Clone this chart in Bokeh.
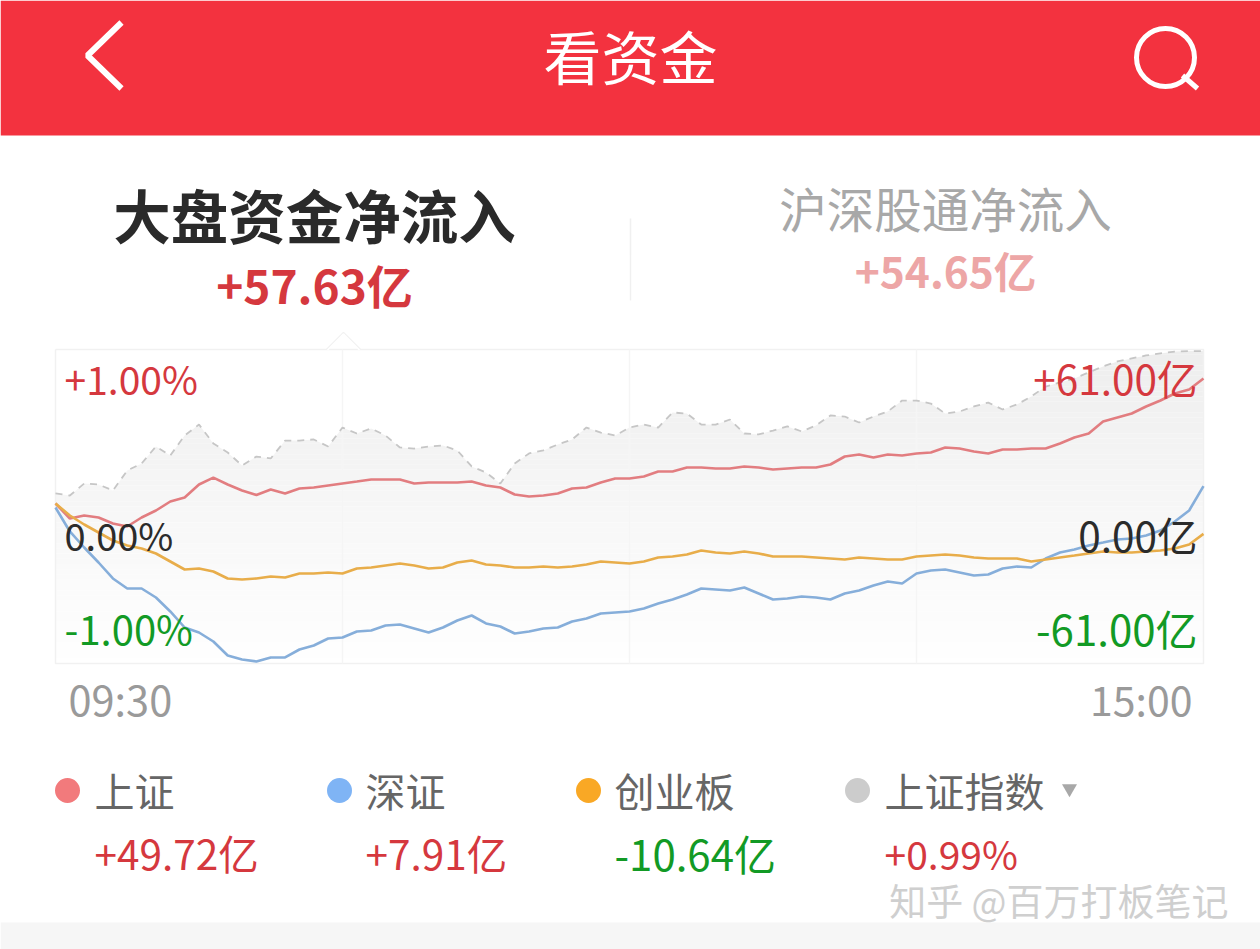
from bokeh.plotting import figure
from bokeh.models import Range1d
from bokeh.core.properties import value
from bokeh.embed import file_html
from bokeh.resources import INLINE

MINUTES = [i * 3 for i in range(81)]
SH = [1.17,-4.66,-3.50,-4.27,-6.60,-7.77,-4.27,-1.55,1.94,3.50,8.55,11.20,8.55,6.22,4.50,6.60,5.05,6.99,7.38,8.16,
      8.94,9.71,10.49,10.49,10.49,8.94,9.32,9.32,9.32,9.71,8.16,7.38,4.66,3.89,4.27,5.05,6.99,7.38,9.32,10.88,
      10.88,11.66,13.60,13.60,15.15,15.15,14.76,14.76,15.54,15.15,14.37,14.76,15.15,15.15,16.32,19.43,20.20,19.04,20.20,19.81,
      20.59,20.98,22.92,22.53,21.37,20.59,22.14,22.14,22.53,22.53,24.48,26.81,28.36,33.02,34.58,36.13,38.85,41.18,43.90,45.45,49.72]
SZ = [-0.39,-9.71,-15.93,-21.76,-27.97,-31.86,-31.86,-35.35,-40.79,-47.01,-48.95,-52.45,-57.89,-59.44,-60.22,-58.66,-58.66,-55.56,-54.00,-51.28,
      -50.89,-48.56,-48.17,-46.23,-45.84,-47.40,-48.95,-47.01,-44.29,-42.35,-45.45,-46.62,-49.34,-48.56,-47.40,-47.01,-44.68,-43.51,-41.57,-41.18,
      -40.79,-39.63,-37.68,-36.13,-34.19,-31.86,-32.25,-32.63,-31.47,-33.80,-36.13,-35.74,-34.97,-35.35,-36.13,-33.80,-32.63,-30.69,-29.14,-29.91,
      -26.03,-24.86,-24.48,-25.64,-26.81,-26.42,-24.09,-23.31,-23.70,-20.20,-17.87,-16.71,-15.15,-13.99,-12.82,-12.43,-11.27,-9.32,-5.83,-1.55,7.91]
CYB = [1.17,-3.50,-6.99,-10.10,-13.21,-15.15,-16.32,-18.26,-21.37,-24.48,-24.09,-25.25,-27.97,-28.36,-27.97,-27.20,-27.58,-26.03,-26.03,-25.64,
       -26.03,-24.09,-23.70,-22.92,-22.14,-22.92,-24.09,-23.70,-21.76,-20.98,-22.53,-22.92,-23.70,-23.70,-23.31,-23.70,-23.31,-22.53,-21.37,-21.76,
       -22.14,-21.37,-19.81,-19.43,-18.65,-17.09,-17.87,-18.26,-17.48,-18.26,-19.43,-19.43,-19.43,-19.81,-20.20,-20.59,-19.81,-20.20,-20.59,-20.59,
       -19.43,-19.04,-18.65,-19.04,-19.81,-20.20,-20.20,-20.20,-21.37,-20.59,-19.81,-19.04,-18.26,-17.48,-17.87,-17.87,-17.48,-17.09,-16.32,-14.76,-10.64]
INDEX_PCT = [.083,.070,.146,.140,.102,.229,.274,.382,.325,.452,.522,.401,.344,.261,.318,.306,.420,.420,.427,.382,
             .503,.465,.497,.452,.376,.369,.382,.389,.357,.255,.217,.146,.274,.338,.357,.395,.427,.503,.471,.452,
             .503,.522,.503,.599,.592,.522,.522,.554,.465,.459,.484,.510,.478,.516,.580,.573,.535,.573,.605,.675,
             .675,.656,.592,.605,.637,.662,.618,.650,.701,.764,.790,.815,.854,.892,.924,.943,.962,.975,.987,.990,.990]

W, H = 1260, 949
L, R, T, B = 55, 1203, 349, 663            # plot area on the page
kx = 240 / (R - L)
ky = 122 / (B - T)
x_rng = Range1d(-L * kx, (W - L) * kx)
y_rng = Range1d(-61 - (H - B) * ky, 61 + T * ky)

p = figure(width=W, height=H, x_range=x_rng, y_range=y_rng, output_backend="svg",
           toolbar_location=None, min_border=0, outline_line_color=None,
           background_fill_color="white", border_fill_color="white")
p.axis.visible = False
p.grid.visible = False
p.extra_x_ranges["page"] = Range1d(0, W)
p.extra_y_ranges["page"] = Range1d(H, 0)
p.extra_y_ranges["pct"] = Range1d(y_rng.start / 61, y_rng.end / 61)
PG = dict(x_range_name="page", y_range_name="page")
FONT = value("Noto Sans CJK SC")

# page furniture
p.quad(left=[0], right=[W], top=[0], bottom=[135], fill_color="#f3323f", line_color=None, **PG)
p.quad(left=[0], right=[W], top=[922], bottom=[H], fill_color="#f6f6f6", line_color=None, **PG)
p.line([121, 87, 121], [22, 55, 88], line_color="white", line_width=6, **PG)
p.scatter([1165], [57], size=58, marker="circle", fill_color=None, line_color="white", line_width=5, **PG)
p.line([1182, 1197], [75, 88], line_color="white", line_width=5, **PG)
p.line([630, 630], [218, 300], line_color="#f0f0f0", line_width=1.5, **PG)

def txt(x, y, s, size, color, align="left", style="normal"):
    p.text([x], [y - 3], text=[s], text_font=FONT, text_font_size=f"{size}px", text_color=color,
           text_align=align, text_baseline="middle", text_font_style=style, **PG)

# area under the index: vertical gradient, masked above the index line
n = 60
for i in range(n):
    t0, t1 = T + (B - T) * i / n, T + (B - T) * (i + 1) / n
    g = int(238 + 17 * (i / (n - 1)) ** 0.9)
    p.quad(left=[L], right=[R], top=[t0], bottom=[t1], fill_color=f"#{g:02x}{g:02x}{g:02x}", line_color=None, **PG)
p.varea(x=MINUTES, y1=[v * 61 for v in INDEX_PCT], y2=[61] * len(MINUTES), fill_color="white")

# frame and time grid
p.line([L, R, R, L, L], [T, T, B, B, T], line_color="#f1f1f1", line_width=1.5, **PG)
for gx in (342, 629, 916):
    p.line([gx, gx], [T, B], line_color="#f5f5f5", line_width=1.5, **PG)
p.line([326, 343, 360], [349, 332, 349], line_color="#f1f1f1", line_width=1.5, **PG)
p.line([327, 343, 359], [349.5, 333.5, 349.5], line_color="white", line_width=1.5, **PG)

# series
p.line(MINUTES, INDEX_PCT, y_range_name="pct", line_color="#c6c6c6", line_width=1.8, line_dash="7 6")
p.line(MINUTES, SH, line_color="#e27d80", line_width=2.6)
p.line(MINUTES, SZ, line_color="#86aeda", line_width=2.6)
p.line(MINUTES, CYB, line_color="#e8ad4a", line_width=2.6)

RED, GREEN, DARK = "#d5383e", "#129a25", "#2b2b2b"
txt(630, 57, "看资金", 58, "white", "center")
txt(314, 216, "大盘资金净流入", 57.5, "#2a2a2a", "center", "bold")
txt(314, 286, "+57.63亿", 46, "#d5383e", "center", "bold")
txt(945, 210, "沪深股通净流入", 47.5, "#a8a8a8", "center")
txt(945, 272, "+54.65亿", 42.5, "#eda6a6", "center", "bold")

txt(64, 380, "+1.00%", 39, RED)
txt(64, 537, "0.00%", 38, DARK)
txt(64, 630, "-1.00%", 40, GREEN)
txt(1197, 380, "+61.00亿", 40.5, RED, "right")
txt(1197, 537, "0.00亿", 40.5, DARK, "right")
txt(1197, 630, "-61.00亿", 42, GREEN, "right")
txt(68, 700, "09:30", 41.5, "#9a9a9a")
txt(1192, 700, "15:00", 41, "#9a9a9a", "right")

# legend
dots = [(67, "#f27a7c"), (339, "#7fb4f5"), (588, "#f9a825"), (857, "#cccccc")]
for dx, col in dots:
    p.scatter([dx], [790], size=25, marker="circle", fill_color=col, line_color=None, **PG)
txt(94, 792, "上证", 40, "#666666")
txt(365, 792, "深证", 40, "#666666")
txt(614, 792, "创业板", 40, "#666666")
txt(884, 792, "上证指数", 40, "#666666")
p.scatter([1069], [788], size=15, marker="inverted_triangle", fill_color="#a8a8a8", line_color=None, **PG)
txt(94, 855, "+49.72亿", 40.5, RED)
txt(365, 855, "+7.91亿", 40.5, RED)
txt(614, 855, "-10.64亿", 42, GREEN)
txt(884, 855, "+0.99%", 39, RED)
txt(1228, 902, "知乎 @百万打板笔记", 37, "#cfcfcf", "right")

open("out.html", "w").write(file_html(p, INLINE))
